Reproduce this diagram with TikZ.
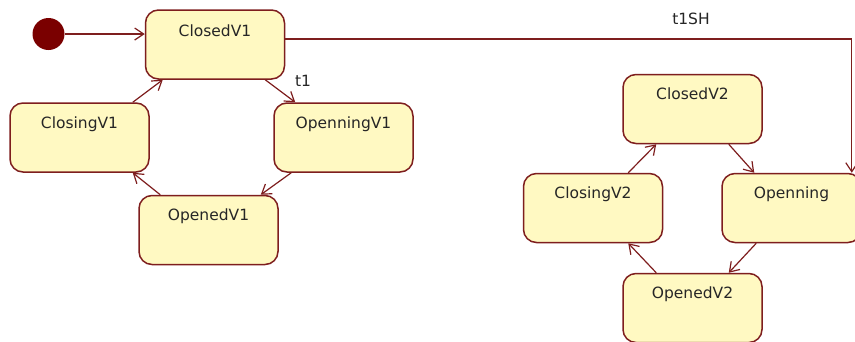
\documentclass[tikz,border=0pt]{standalone}
\usepackage{fontspec}
\setmainfont{DejaVu Sans}
\usetikzlibrary{arrows.meta}
\definecolor{edge}{HTML}{7E1E1E}
\definecolor{boxfill}{HTML}{FFF9C2}
\definecolor{initc}{HTML}{7A0000}
\tikzset{
  statebox/.style={draw=edge, fill=boxfill, line width=1.5pt, rounded corners=13pt,
    minimum width=139pt, minimum height=69pt, inner sep=0pt},
  lbl/.style={font=\fontsize{15.5}{18}\selectfont, anchor=base, inner sep=0pt, text=black!85},
  tr/.style={draw=edge, line width=1.2pt, -{Straight Barb[length=9pt,width=12pt]}},
}
\begin{document}
\begin{tikzpicture}[x=1pt, y=-1pt]
\useasboundingbox (0,0) rectangle (855,341);
\clip (0,0) rectangle (855,341);
\fill[white] (0,0) rectangle (855,341);
% left machine
\node[statebox] (c1) at (215,44.5) {};
\node[statebox] (cl1) at (79.5,137.5) {};
\node[statebox] (op1) at (343.5,137.5) {};
\node[statebox] (od1) at (208.5,230) {};
% right machine
\node[statebox] (c2) at (692.5,109) {};
\node[statebox] (cl2) at (593,208) {};
\node[statebox] (op2) at (791.5,208) {};
\node[statebox] (od2) at (692.5,308) {};
% labels
\node[lbl] (c1t) at ([yshift=-27]c1.north) {ClosedV1};
\node[lbl] (cl1t) at ([yshift=-26]cl1.north) {ClosingV1};
\node[lbl] (op1t) at ([yshift=-26]op1.north) {OpenningV1};
\node[lbl] (od1t) at ([yshift=-26]od1.north) {OpenedV1};
\node[lbl] (c2t) at ([yshift=-26]c2.north) {ClosedV2};
\node[lbl] (cl2t) at ([yshift=-26]cl2.north) {ClosingV2};
\node[lbl] (op2t) at ([yshift=-26]op2.north) {Openning};
\node[lbl] (od2t) at ([yshift=-26]od2.north) {OpenedV2};
% initial
\node[circle, fill=initc, minimum size=32pt, inner sep=0pt] (init) at (48.5,34) {};
\draw[tr] (init.east) -- (init.east -| c1.west);
% left transitions
\draw[tr] ([xshift=-20]c1.south east) -- ([xshift=22]op1.north west);
\draw[tr] ([xshift=18]op1.south west) -- ([xshift=-18]od1.north east);
\draw[tr] ([xshift=22]od1.north west) -- ([xshift=-17]cl1.south east);
\draw[tr] ([xshift=-17]cl1.north east) -- ([xshift=18]c1.south west);
\node[lbl] (t1) at (303,86) {t1};
% right transitions
\draw[tr] ([xshift=-34]c2.south east) -- ([xshift=33]op2.north west);
\draw[tr] ([xshift=35]op2.south west) -- ([xshift=-34]od2.north east);
\draw[tr] ([xshift=34]od2.north west) -- ([xshift=-35]cl2.south east);
\draw[tr] ([xshift=-35]cl2.north east) -- ([xshift=34]c2.south west);
% t1SH
\coordinate (shend) at ([xshift=-10]op2.north east);
\draw[tr] ([yshift=5.5]c1.east) -| (shend);
\node[lbl] (t1sh) at (691,24) {t1SH};
\end{tikzpicture}
\end{document}
